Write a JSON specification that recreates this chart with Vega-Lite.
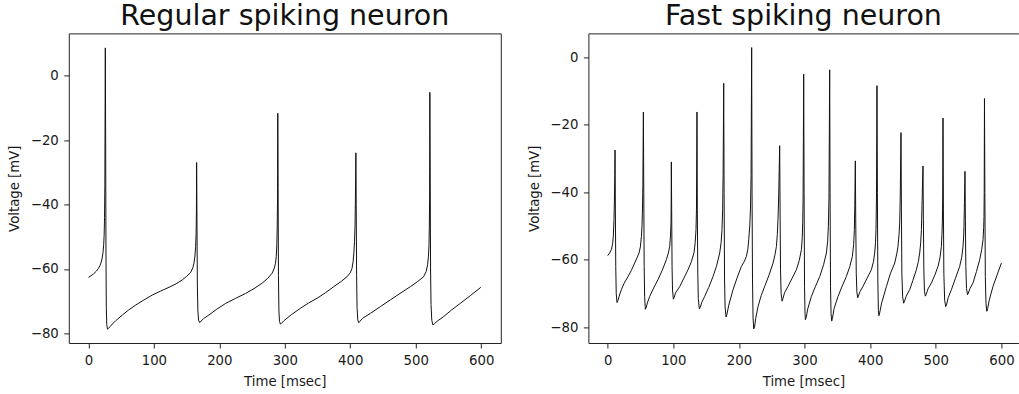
{
  "$schema": "https://vega.github.io/schema/vega-lite/v6.json",
  "background": "white",
  "padding": {"left": 6.8, "top": 0.4, "right": 0, "bottom": 0},
  "config": {
    "font": "DejaVu Sans",
    "axis": {
      "labelFont": "DejaVu Sans", "titleFont": "DejaVu Sans",
      "labelFontSize": 13.3, "titleFontSize": 13.3, "titleFontWeight": "normal",
      "labelColor": "#1a1a1a", "titleColor": "#1a1a1a",
      "tickColor": "#222", "tickSize": 5, "tickWidth": 1,
      "domainColor": "#222", "domainWidth": 1,
      "grid": false, "labelPadding": 5.5
    },
    "title": {"font": "DejaVu Sans", "fontSize": 28.5, "fontWeight": "normal", "color": "#111", "baseline": "alphabetic", "offset": 3.2, "anchor": "middle"},
    "view": {"stroke": "#222", "strokeWidth": 1},
    "concat": {"spacing": 24.6}
  },
  "datasets": {
    "rs": [
      {"t":0,"v":-62.6},{"t":4,"v":-62.1},{"t":8,"v":-61.5},{"t":12,"v":-60.7},{"t":15,"v":-59.9},{"t":17.5,"v":-59.0},{"t":19.5,"v":-57.9},{"t":21,"v":-56.6},{"t":22.3,"v":-54.8},{"t":23.3,"v":-52.5},{"t":24.0,"v":-49.5},{"t":24.6,"v":-44},{"t":25.1,"v":-34},{"t":25.8,"v":8.7},{"t":26.3,"v":-20},{"t":26.8,"v":-55},{"t":27.3,"v":-72},{"t":28.0,"v":-77.2},{"t":29.0,"v":-78.7},
      {"t":30.5,"v":-78.5},{"t":33,"v":-77.9},{"t":36.6,"v":-77.1},{"t":42,"v":-76.0},{"t":51.9,"v":-74.3},{"t":61,"v":-72.8},{"t":72.3,"v":-71.2},{"t":85,"v":-69.6},{"t":97.6,"v":-68.1},{"t":110,"v":-66.9},{"t":123,"v":-65.7},{"t":134,"v":-64.6},{"t":143.4,"v":-63.4},{"t":150,"v":-62.3},{"t":156.2,"v":-61.1},{"t":159.5,"v":-59.6},{"t":161.2,"v":-58.2},{"t":162.7,"v":-56},{"t":163.8,"v":-53},{"t":164.5,"v":-49},{"t":165.0,"v":-42},{"t":165.3,"v":-26.9},{"t":165.8,"v":-45},{"t":166.4,"v":-65},{"t":167.2,"v":-73},{"t":168.3,"v":-75.9},{"t":169.9,"v":-76.7},
      {"t":172,"v":-76.2},{"t":176,"v":-75.4},{"t":184.1,"v":-74.3},{"t":196,"v":-72.5},{"t":209.6,"v":-70.7},{"t":225,"v":-69.1},{"t":240.1,"v":-67.6},{"t":253,"v":-66.1},{"t":265.4,"v":-64.4},{"t":274,"v":-62.9},{"t":280.7,"v":-61.3},{"t":284,"v":-59.7},{"t":285.8,"v":-58.2},{"t":287,"v":-56},{"t":287.8,"v":-52.5},{"t":288.4,"v":-47},{"t":288.9,"v":-38},{"t":289.3,"v":-11.6},{"t":289.8,"v":-35},{"t":290.3,"v":-62},{"t":291,"v":-73},{"t":291.9,"v":-76.3},{"t":293.2,"v":-77.1},
      {"t":295,"v":-76.9},{"t":298.5,"v":-76.1},{"t":310,"v":-74.2},{"t":324,"v":-72.2},{"t":336,"v":-70.6},{"t":349.3,"v":-69.1},{"t":362,"v":-67.4},{"t":374.8,"v":-65.5},{"t":386,"v":-63.9},{"t":395.1,"v":-62.4},{"t":400,"v":-61.2},{"t":402.7,"v":-59.8},{"t":404.3,"v":-57.8},{"t":405.5,"v":-55.1},{"t":406.5,"v":-51.5},{"t":407.3,"v":-46.5},{"t":407.9,"v":-38},{"t":408.6,"v":-23.9},{"t":409.1,"v":-40},{"t":409.7,"v":-62},{"t":410.4,"v":-72},{"t":411.5,"v":-75.8},{"t":412.9,"v":-76.7},
      {"t":415,"v":-76.2},{"t":419,"v":-75.3},{"t":430.7,"v":-73.8},{"t":446,"v":-71.7},{"t":461.3,"v":-69.6},{"t":476,"v":-67.6},{"t":491.8,"v":-65.5},{"t":503,"v":-63.9},{"t":512,"v":-62.4},{"t":516,"v":-60.8},{"t":518.2,"v":-58.7},{"t":519.5,"v":-56},{"t":520.3,"v":-52.5},{"t":520.8,"v":-47},{"t":521.2,"v":-38},{"t":521.6,"v":-5.1},{"t":522.1,"v":-30},{"t":522.7,"v":-60},{"t":523.4,"v":-71},{"t":524.6,"v":-76},{"t":526.3,"v":-77.4},
      {"t":528.5,"v":-77.0},{"t":533,"v":-76.2},{"t":542.6,"v":-74.8},{"t":555,"v":-72.7},{"t":568,"v":-70.7},{"t":584,"v":-68.2},{"t":599.5,"v":-65.7}
    ],
    "fs": [
      {"t":0,"v":-58.8},{"t":3,"v":-58.0},{"t":5.6,"v":-57.0},{"t":7.5,"v":-55.3},{"t":8.6,"v":-53},{"t":9.6,"v":-48.1},{"t":10.3,"v":-42},{"t":10.8,"v":-35},{"t":11.2,"v":-27.5},{"t":11.7,"v":-45},{"t":12.3,"v":-62},{"t":13.0,"v":-70},{"t":14.2,"v":-72.7},
      {"t":15.5,"v":-72.2},{"t":17.5,"v":-70.8},{"t":20.8,"v":-68.9},{"t":25,"v":-67},{"t":31,"v":-65},{"t":36,"v":-63.2},{"t":41.1,"v":-61},{"t":45,"v":-59.3},{"t":47.8,"v":-58},{"t":49.8,"v":-56.2},{"t":51.4,"v":-53.1},{"t":52.3,"v":-50},{"t":52.9,"v":-46.2},{"t":53.6,"v":-38},{"t":54.4,"v":-16.2},{"t":55.0,"v":-40},{"t":55.6,"v":-62},{"t":56.3,"v":-71},{"t":57.4,"v":-74.7},
      {"t":58.5,"v":-74.3},{"t":60.5,"v":-72.8},{"t":64,"v":-70.9},{"t":70,"v":-68.4},{"t":76.7,"v":-65.9},{"t":83,"v":-63.2},{"t":89.4,"v":-60},{"t":92.5,"v":-58},{"t":94.5,"v":-56.1},{"t":95.7,"v":-53},{"t":96.5,"v":-49.1},{"t":96.8,"v":-42},{"t":97.0,"v":-31.0},{"t":97.5,"v":-45},{"t":98.1,"v":-62},{"t":98.8,"v":-69},{"t":100.1,"v":-71.7},
      {"t":101.3,"v":-71.2},{"t":103.5,"v":-69.8},{"t":110,"v":-67.9},{"t":116,"v":-65.5},{"t":122.4,"v":-63},{"t":127.5,"v":-60.6},{"t":131.5,"v":-58},{"t":133.3,"v":-55},{"t":134.6,"v":-51.1},{"t":135.3,"v":-45},{"t":136.1,"v":-16.2},{"t":136.6,"v":-45},{"t":137.3,"v":-64},{"t":138.1,"v":-71.5},{"t":139.7,"v":-74.6},
      {"t":141,"v":-74.1},{"t":143.5,"v":-72.6},{"t":147.8,"v":-70.9},{"t":154,"v":-68.2},{"t":160.5,"v":-65},{"t":166,"v":-61.8},{"t":170.7,"v":-58},{"t":172.8,"v":-55},{"t":174.2,"v":-51.1},{"t":175.2,"v":-45},{"t":175.9,"v":-35},{"t":176.8,"v":-7.7},{"t":177.4,"v":-40},{"t":178.1,"v":-66},{"t":178.9,"v":-74},{"t":180.4,"v":-77.0},
      {"t":181.6,"v":-76.3},{"t":184.5,"v":-73.5},{"t":191,"v":-68.9},{"t":197,"v":-65.5},{"t":203.7,"v":-62},{"t":208,"v":-60.6},{"t":211.4,"v":-59},{"t":213.5,"v":-57},{"t":214.9,"v":-54.1},{"t":216.5,"v":-50},{"t":217.6,"v":-45},{"t":218.5,"v":-35},{"t":219.4,"v":2.9},{"t":220,"v":-40},{"t":220.7,"v":-66},{"t":221.5,"v":-77},{"t":222.5,"v":-80.5},
      {"t":223.8,"v":-80},{"t":225.5,"v":-77.5},{"t":229.1,"v":-73.9},{"t":234,"v":-70.6},{"t":239.3,"v":-67.9},{"t":246,"v":-64.5},{"t":252,"v":-61},{"t":255,"v":-58.5},{"t":257.1,"v":-56.1},{"t":258.5,"v":-52.5},{"t":259.5,"v":-48.1},{"t":260.5,"v":-42},{"t":262.1,"v":-26.2},{"t":262.7,"v":-45},{"t":263.4,"v":-63},{"t":264.3,"v":-70},{"t":265.8,"v":-72.3},
      {"t":267,"v":-71.6},{"t":269.5,"v":-69.8},{"t":274.8,"v":-67.9},{"t":281,"v":-65.5},{"t":287.5,"v":-63},{"t":292,"v":-60.2},{"t":295.2,"v":-57},{"t":296.5,"v":-53.5},{"t":297.2,"v":-49.1},{"t":297.8,"v":-42},{"t":298.7,"v":-5.0},{"t":299.3,"v":-40},{"t":300,"v":-68},{"t":300.7,"v":-76},{"t":301.3,"v":-77.8},
      {"t":302.5,"v":-77.1},{"t":305,"v":-74.5},{"t":310.4,"v":-70.9},{"t":316.5,"v":-68},{"t":323.1,"v":-65},{"t":329,"v":-61.5},{"t":333.3,"v":-58},{"t":335.2,"v":-54.5},{"t":336.3,"v":-50.1},{"t":337.2,"v":-42},{"t":338.3,"v":-3.7},{"t":338.9,"v":-40},{"t":339.6,"v":-68},{"t":340.4,"v":-76},{"t":341.4,"v":-78.2},
      {"t":342.5,"v":-77.4},{"t":345,"v":-74.5},{"t":351,"v":-70.9},{"t":357,"v":-68},{"t":363.7,"v":-65},{"t":369,"v":-62},{"t":372.9,"v":-59},{"t":374.8,"v":-55.5},{"t":375.9,"v":-51.1},{"t":376.6,"v":-44},{"t":377.4,"v":-30.7},{"t":378,"v":-48},{"t":378.8,"v":-64},{"t":379.7,"v":-69.5},{"t":381,"v":-71.3},
      {"t":382,"v":-70.8},{"t":384.5,"v":-69.5},{"t":389.1,"v":-67.9},{"t":395,"v":-65.6},{"t":401.8,"v":-63},{"t":405,"v":-60.6},{"t":406.9,"v":-58},{"t":408.1,"v":-55},{"t":408.9,"v":-51.1},{"t":409.6,"v":-42},{"t":410.4,"v":-8.4},{"t":411,"v":-40},{"t":411.7,"v":-66},{"t":412.5,"v":-75},{"t":413.3,"v":-76.6},
      {"t":414.5,"v":-75.8},{"t":417.5,"v":-72.8},{"t":424.7,"v":-68},{"t":431,"v":-64},{"t":437.4,"v":-61},{"t":440.5,"v":-58.3},{"t":442.4,"v":-56.1},{"t":444,"v":-52.5},{"t":445,"v":-49.1},{"t":445.8,"v":-42},{"t":447.0,"v":-22.3},{"t":447.6,"v":-45},{"t":448.3,"v":-64},{"t":449.5,"v":-71},{"t":451.1,"v":-72.9},
      {"t":452.3,"v":-72.3},{"t":455,"v":-70.8},{"t":460.2,"v":-68.9},{"t":465,"v":-66.2},{"t":470.4,"v":-63},{"t":473.5,"v":-60.5},{"t":475.5,"v":-58},{"t":477,"v":-55},{"t":478.1,"v":-51.1},{"t":479,"v":-44},{"t":480.5,"v":-32.2},{"t":481.1,"v":-48},{"t":481.8,"v":-63},{"t":482.8,"v":-69.5},{"t":484.1,"v":-70.8},
      {"t":485.3,"v":-70.3},{"t":488,"v":-68.7},{"t":493.3,"v":-66.9},{"t":498.5,"v":-64.6},{"t":503.4,"v":-62},{"t":506.5,"v":-59.3},{"t":508.5,"v":-56.1},{"t":509.4,"v":-52.5},{"t":510,"v":-49.1},{"t":510.5,"v":-42},{"t":511.0,"v":-18.0},{"t":511.6,"v":-45},{"t":512.3,"v":-64},{"t":513.5,"v":-72},{"t":515.1,"v":-73.9},
      {"t":516.3,"v":-73.4},{"t":519,"v":-71.2},{"t":523.8,"v":-68.9},{"t":530,"v":-65.5},{"t":536.4,"v":-62},{"t":539.5,"v":-59.3},{"t":541.5,"v":-56.1},{"t":542.5,"v":-53},{"t":543,"v":-50.1},{"t":543.7,"v":-43},{"t":544.5,"v":-33.8},{"t":545.1,"v":-48},{"t":545.8,"v":-62},{"t":546.8,"v":-68.5},{"t":548.4,"v":-70.4},
      {"t":549.6,"v":-69.9},{"t":552,"v":-68.6},{"t":556.7,"v":-66.9},{"t":562,"v":-63.5},{"t":566.9,"v":-60},{"t":570,"v":-57},{"t":572,"v":-54.1},{"t":573,"v":-50.5},{"t":573.5,"v":-47.2},{"t":573.8,"v":-40},{"t":574.2,"v":-12.2},{"t":574.8,"v":-40},{"t":575.5,"v":-65},{"t":576.5,"v":-73},{"t":577.8,"v":-75.3},
      {"t":579,"v":-74.5},{"t":581.5,"v":-72},{"t":587.2,"v":-67.9},{"t":593.5,"v":-64.5},{"t":600,"v":-61.0}
    ]
  },
  "hconcat": [
    {
      "title": "Regular spiking neuron",
      "width": 432,
      "height": 309.6,
      "data": {"name": "rs"},
      "mark": {"type": "line", "color": "#111", "strokeWidth": 1},
      "encoding": {
        "x": {"field": "t", "type": "quantitative", "scale": {"domain": [-30, 630], "nice": false, "zero": false},
              "axis": {"title": "Time [msec]", "values": [0, 100, 200, 300, 400, 500, 600], "domain": false, "titlePadding": 8}},
        "y": {"field": "v", "type": "quantitative", "scale": {"domain": [-83.0, 13.2], "nice": false, "zero": false},
              "axis": {"title": "Voltage [mV]", "values": [-80, -60, -40, -20, 0], "domain": false, "titlePadding": 8.5}}
      }
    },
    {
      "title": "Fast spiking neuron",
      "width": 430,
      "height": 309.6,
      "view": {"stroke": null},
      "data": {"name": "fs"},
      "encoding": {
        "y": {"field": "v", "type": "quantitative", "scale": {"domain": [-84.7, 7.1], "nice": false, "zero": false},
              "axis": {"title": "Voltage [mV]", "values": [-80, -60, -40, -20, 0], "domain": true, "titlePadding": 8.5}}
      },
      "layer": [
        {
          "mark": {"type": "line", "color": "#111", "strokeWidth": 1},
          "encoding": {
            "x": {"field": "t", "type": "quantitative", "scale": {"domain": [-29.4, 625.9], "nice": false, "zero": false},
                  "axis": {"title": "Time [msec]", "values": [0, 100, 200, 300, 400, 500, 600], "domain": true, "titlePadding": 8}}
          }
        },
        {
          "mark": {"type": "line", "opacity": 0},
          "encoding": {
            "x": {"field": "t", "type": "quantitative", "scale": {"domain": [-29.4, 625.9], "nice": false, "zero": false},
                  "axis": {"orient": "top", "title": null, "labels": false, "ticks": false, "domain": true}}
          }
        }
      ],
      "resolve": {"axis": {"x": "independent"}}
    }
  ]
}
